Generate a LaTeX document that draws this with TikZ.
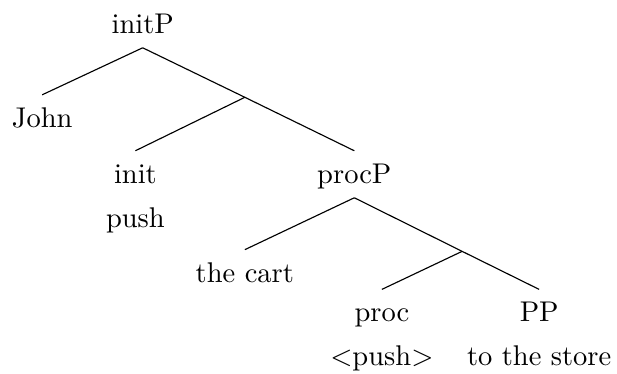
\documentclass[tikz,border=0pt]{standalone}
\usepackage{tikz}
\usetikzlibrary{positioning}
\tikzset{
  cat/.style={inner sep=4.2pt, text height=7pt, text depth=0.7pt, anchor=base},
  lex/.style={inner sep=3.1pt, text height=7pt, text depth=2pt},
  branch/.style={draw=black, line width=0.4pt},
}
\begin{document}
\begin{tikzpicture}
  \useasboundingbox (0,0) rectangle (7.61,-4.61);
  \node[cat] (initP) at (1.76,-0.41) {initP};
  \node[cat] (john) at (0.52,-1.57) {John};
  \coordinate (initbar) at (3.02,-1.20);
  \node[cat] (init) at (1.67,-2.26) {init};
  \node[lex, below=0pt of init] (pushw) {push};
  \node[cat] (procP) at (4.37,-2.26) {procP};
  \node[cat] (cart) at (3.02,-3.48) {the cart};
  \coordinate (procbar) at (5.70,-3.10);
  \node[cat] (proc) at (4.71,-3.97) {proc};
  \node[lex, below=0pt of proc] (pushtr) {$<$push$>$};
  \node[cat] (pp) at (6.65,-3.97) {PP};
  \node[lex, below=0pt of pp] (store) {to the store};
  \draw[branch] (initP.south) -- (john.north);
  \draw[branch] (initP.south) -- (initbar);
  \draw[branch] (initbar) -- (init.north);
  \draw[branch] (initbar) -- (procP.north);
  \draw[branch] (procP.south) -- (cart.north);
  \draw[branch] (procP.south) -- (procbar);
  \draw[branch] (procbar) -- (proc.north);
  \draw[branch] (procbar) -- (pp.north);
\end{tikzpicture}
\end{document}
